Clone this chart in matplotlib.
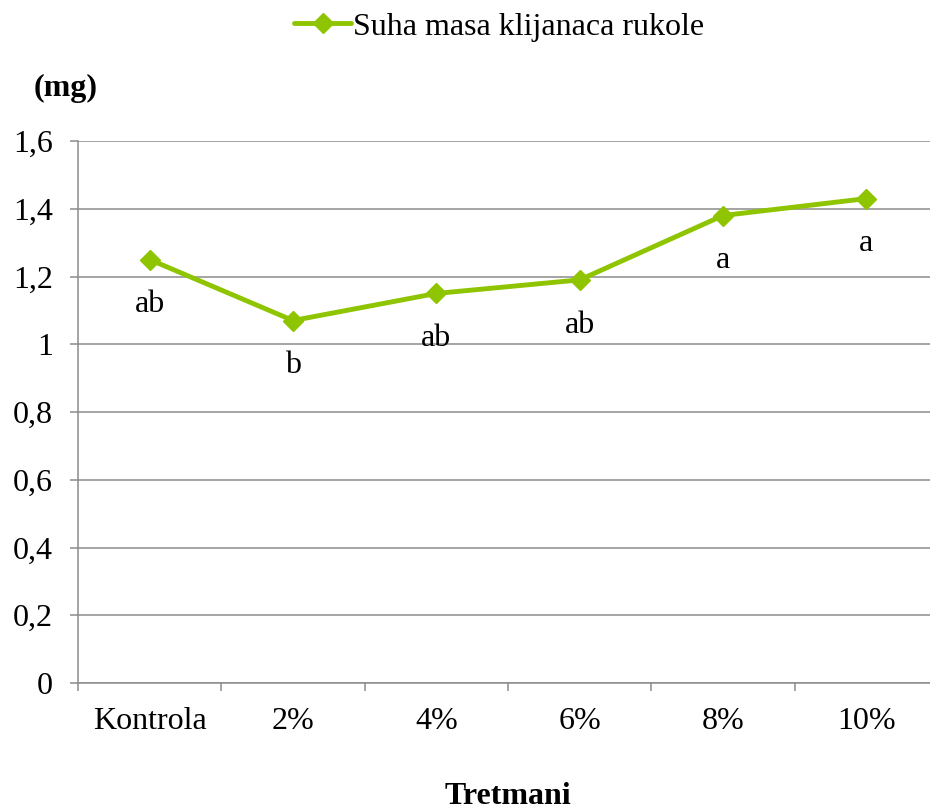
import matplotlib
matplotlib.use('Agg')
import matplotlib.pyplot as plt
from matplotlib.ticker import FixedLocator

plt.rcParams['font.family'] = 'Liberation Serif'

categories = ['Kontrola', '2%', '4%', '6%', '8%', '10%']
values = [1.25, 1.07, 1.15, 1.19, 1.38, 1.43]
letters = ['ab', 'b', 'ab', 'ab', 'a', 'a']
yticks = [0, 0.2, 0.4, 0.6, 0.8, 1.0, 1.2, 1.4, 1.6]
ytick_labels = ['0', '0,2', '0,4', '0,6', '0,8', '1', '1,2', '1,4', '1,6']

GREEN = '#8fc400'
GRID = '#8c8c8c'
FS = 23

fig = plt.figure(figsize=(9.3, 8.1), dpi=100)
ax = fig.add_axes([78/930, 1-683/810, (938-78)/930, (683-141)/810])

x = list(range(len(categories)))
ax.plot(x, values, color=GREEN, lw=3.5, marker='D', ms=10.5, mec=GREEN, mfc=GREEN,
        label='Suha masa klijanaca rukole', solid_capstyle='round')
for xi, v, l in zip(x, values, letters):
    ax.annotate(l, (xi, v), xytext=(0, -32.5), textcoords='offset points',
                ha='center', va='center', fontsize=FS)

ax.set_xlim(-0.5, len(categories) - 0.5)
ax.set_ylim(0, 1.6)
ax.set_yticks(yticks)
ax.set_yticklabels(ytick_labels, fontsize=FS)
ax.set_xticks(x)
ax.set_xticklabels(categories, fontsize=FS)
ax.xaxis.set_minor_locator(FixedLocator([i - 0.5 for i in range(len(categories) + 1)]))
ax.tick_params(axis='x', which='major', length=0, pad=17)
ax.tick_params(axis='x', which='minor', length=6, width=1.1, color=GRID)
ax.tick_params(axis='y', length=6, width=1.1, color=GRID, pad=12)
ax.grid(axis='y', color=GRID, lw=1.1)
ax.set_axisbelow(True)
for s in ['top', 'right']:
    ax.spines[s].set_visible(False)
for s in ['left', 'bottom']:
    ax.spines[s].set_color(GRID)
    ax.spines[s].set_linewidth(1.1)

fig.text(66/930, 1-88/810, '(mg)', fontsize=FS, fontweight='bold', ha='center', va='center')
fig.text(508/930, 1-797/810, 'Tretmani', fontsize=FS, fontweight='bold', ha='center', va='center')

fig.legend(loc='center', bbox_to_anchor=(499/930, 1-27/810), frameon=False,
           fontsize=FS, handlelength=1.8, handletextpad=0.05)

fig.savefig('out.png', dpi=100)
